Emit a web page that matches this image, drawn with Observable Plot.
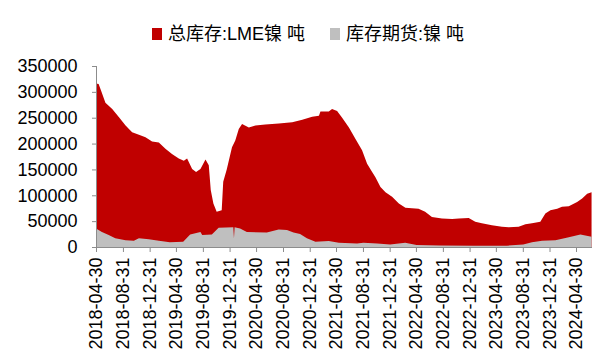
<!DOCTYPE html>
<html><head><meta charset="utf-8">
<script src="https://cdn.jsdelivr.net/npm/d3@7"></script>
<script src="https://cdn.jsdelivr.net/npm/@observablehq/plot@0.6"></script>
<style>
body{margin:0;background:#fff;font-family:"Liberation Sans",Arial,sans-serif;}
#legend{height:50px;box-sizing:border-box;padding-top:18px;padding-left:18px;display:flex;justify-content:center;font-size:18px;line-height:22px;font-family:"Liberation Sans","Noto Sans CJK SC",sans-serif;color:#000;}
#legend .item{display:flex;align-items:center;}
#legend .item + .item{margin-left:25px;}
#legend .sw{display:inline-block;width:10px;height:12px;margin-right:6px;}
</style>
</head><body>
<div id="legend"></div>
<div id="chart"></div>
<script>
const seriesNames = ["总库存:LME镍 吨", "库存期货:镍 吨"];
const seriesColors = ["#C00000", "#BFBFBF"];

const lmeDates = ["2018-04-30","2018-05-12","2018-05-25","2018-06-12","2018-07-13","2018-08-13","2018-09-12","2018-10-12","2018-11-12","2018-12-12","2019-01-11","2019-02-11","2019-03-13","2019-04-12","2019-05-13","2019-06-05","2019-06-20","2019-07-13","2019-07-31","2019-08-20","2019-09-12","2019-09-27","2019-10-06","2019-10-18","2019-11-02","2019-11-25","2019-12-02","2019-12-18","2020-01-11","2020-01-26","2020-02-11","2020-02-26","2020-03-28","2020-04-27","2020-06-11","2020-08-12","2020-10-12","2020-11-27","2021-01-11","2021-02-11","2021-02-18","2021-03-28","2021-04-12","2021-05-05","2021-05-28","2021-06-28","2021-07-28","2021-08-27","2021-09-19","2021-10-12","2021-10-27","2021-11-19","2021-12-12","2022-01-11","2022-02-11","2022-03-13","2022-05-12","2022-06-11","2022-07-12","2022-08-27","2022-10-12","2022-11-12","2022-12-27","2023-01-26","2023-02-25","2023-04-12","2023-05-28","2023-06-28","2023-08-12","2023-09-12","2023-10-12","2023-11-19","2023-12-12","2024-01-04","2024-02-04","2024-02-26","2024-03-28","2024-05-05","2024-05-28","2024-06-20","2024-07-10"];
const lmeValues = [316000,315000,300000,279000,267000,251000,235000,222000,217000,212000,204000,202000,190000,180000,171000,167000,171000,151000,145000,151000,169000,158000,110000,84000,68000,71000,126000,150000,193000,206000,228000,238000,231000,235000,237000,239000,241000,246000,252000,254000,262000,262000,267000,263000,250000,231000,209000,187000,161000,145000,135000,116000,106000,97000,84000,76000,74000,68000,58000,55000,54000,55000,56000,49000,46000,42000,39000,38000,39000,44000,46000,49000,65000,71000,74000,78000,79000,87000,94000,103000,106000];

const shfeDates = ["2018-04-30","2018-05-27","2018-06-27","2018-07-27","2018-09-12","2018-10-20","2018-11-12","2018-12-27","2019-02-11","2019-04-02","2019-06-02","2019-07-04","2019-08-20","2019-08-28","2019-10-11","2019-11-11","2020-01-17","2020-01-20","2020-01-23","2020-02-17","2020-03-19","2020-06-18","2020-08-11","2020-09-18","2020-10-18","2020-11-17","2020-12-18","2021-01-26","2021-03-28","2021-05-13","2021-08-04","2021-09-02","2021-11-04","2022-01-02","2022-03-12","2022-05-03","2022-08-18","2023-01-17","2023-06-19","2023-09-02","2023-10-12","2023-11-27","2024-01-27","2024-03-28","2024-05-20","2024-07-10"];
const shfeValues = [36000,29000,23000,17000,13000,12000,17000,15000,12000,9000,10000,24000,29000,23000,24000,37000,38000,17000,38000,36000,29000,28000,34000,33000,28000,25000,17000,10000,11500,8000,7000,8000,7000,5000,8000,4000,3000,2500,2500,5000,9000,12000,13000,19000,24000,20000];

const tickLabels = ["2018-04-30","2018-08-31","2018-12-31","2019-04-30","2019-08-31","2019-12-31","2020-04-30","2020-08-31","2020-12-31","2021-04-30","2021-08-31","2021-12-31","2022-04-30","2022-08-31","2022-12-31","2023-04-30","2023-08-31","2023-12-31","2024-04-30"];
const yTicks = [0,50000,100000,150000,200000,250000,300000,350000];

// legend
const legend = document.getElementById("legend");
seriesNames.forEach((n, i) => {
  const it = document.createElement("div");
  it.className = "item";
  const sw = document.createElement("span");
  sw.className = "sw";
  sw.style.background = seriesColors[i];
  it.appendChild(sw);
  it.appendChild(document.createTextNode(n));
  legend.appendChild(it);
});

const lme = lmeDates.map((d, i) => ({date: new Date(d), value: lmeValues[i]}));
const shfe = shfeDates.map((d, i) => ({date: new Date(d), value: shfeValues[i]}));
const xStart = new Date("2018-04-30");
const xEnd = new Date("2024-07-12");

const chart = Plot.plot({
  width: 598,
  height: 310,
  marginLeft: 96,
  marginRight: 6,
  marginTop: 16,
  marginBottom: 113,
  style: {fontFamily: "'Liberation Sans', Arial, sans-serif", fontSize: "18px", color: "#000", background: "#fff"},
  x: {type: "utc", domain: [xStart, xEnd]},
  y: {domain: [0, 350000]},
  marks: [
    Plot.areaY(lme, {x: "date", y: "value", fill: seriesColors[0]}),
    Plot.areaY(shfe, {x: "date", y: "value", fill: seriesColors[1]}),
    Plot.ruleY([0], {stroke: "#8c8c8c"}),
    Plot.ruleX([xStart], {stroke: "#8c8c8c"}),
    Plot.axisY({ticks: yTicks, tickFormat: d => String(d), tickSize: 4, tickPadding: 15, fontSize: 18, stroke: "#8c8c8c", fill: "#000", label: null}),
    Plot.axisX({ticks: tickLabels.map(d => new Date(d)), tickFormat: d3.utcFormat("%Y-%m-%d"), tickRotate: -90, tickSize: 5, tickPadding: 5, fontSize: 18, stroke: "#8c8c8c", fill: "#000", label: null})
  ]
});
document.getElementById("chart").appendChild(chart);
</script>
</body></html>
